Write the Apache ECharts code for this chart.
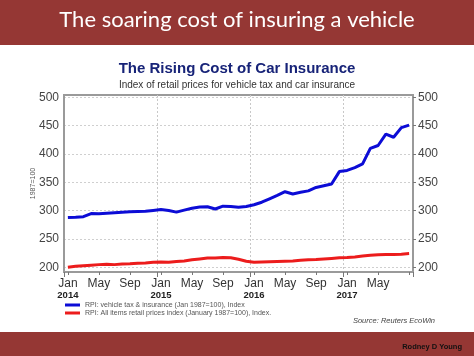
<!DOCTYPE html>
<html>
<head>
<meta charset="utf-8">
<script src="https://cdn.jsdelivr.net/npm/echarts@6/dist/echarts.min.js"></script>
<style>html,body{margin:0;padding:0;background:#fff;}#c{width:474px;height:356px;}</style>
</head>
<body>
<div id="c"></div>
<script>
const months = [
  'Jan 2014','Feb 2014','Mar 2014','Apr 2014','May 2014','Jun 2014','Jul 2014','Aug 2014','Sep 2014','Oct 2014','Nov 2014','Dec 2014',
  'Jan 2015','Feb 2015','Mar 2015','Apr 2015','May 2015','Jun 2015','Jul 2015','Aug 2015','Sep 2015','Oct 2015','Nov 2015','Dec 2015',
  'Jan 2016','Feb 2016','Mar 2016','Apr 2016','May 2016','Jun 2016','Jul 2016','Aug 2016','Sep 2016','Oct 2016','Nov 2016','Dec 2016',
  'Jan 2017','Feb 2017','Mar 2017','Apr 2017','May 2017','Jun 2017','Jul 2017','Aug 2017','Sep 2017'
];
const vehicleInsurance = [
  288, 288.5, 289.5, 295, 294.5, 295.5, 296.5, 297.5, 298, 298.5, 299, 300.5,
  302, 300.5, 297.5, 301, 304.5, 306.5, 307, 303, 308, 307.5, 306, 307.5,
  310.5, 315, 321, 327, 333.5, 329.5, 332.5, 335, 341, 344, 347, 369,
  371, 376, 382.5, 410, 415, 435, 429.5, 446.5, 451
];
const allItemsRPI = [
  200.5, 202, 203, 204, 205, 205.5, 205, 206, 206.5, 207.5, 208, 209,
  209.5, 209, 210.5, 211.5, 213.5, 215, 216.5, 216.5, 217.5, 217, 214.5, 211,
  209, 209.5, 210, 210.5, 211, 211.5, 212.5, 213.5, 214, 215, 216, 217,
  217.5, 218.5, 220, 221.5, 222.5, 223, 223, 223.5, 224.5
];
const yTicks = [200, 250, 300, 350, 400, 450, 500];
const seriesNames = [
  'RPI: vehicle tax & insurance (Jan 1987=100), Index',
  'RPI: All items retail prices index (January 1987=100), Index.'
];

const chart = echarts.init(document.getElementById('c'), null, {renderer: 'canvas'});
const banner = '#953734';
const font = '"Liberation Sans", Arial, sans-serif';

const option = {
  animation: false,
  textStyle: {fontFamily: font},
  graphic: [
    {type: 'rect', left: 0, top: 0, shape: {width: 474, height: 45}, style: {fill: banner}, z: -10},
    {type: 'rect', left: 0, top: 332, shape: {width: 474, height: 24}, style: {fill: banner}, z: -10},
    {type: 'text', left: 'center', top: 9, style: {text: 'The soaring cost of insuring a vehicle', fill: '#fff', font: '22px Lato, "Open Sans", sans-serif'}},
    {type: 'text', right: 12, top: 343, style: {text: 'Rodney D Young', fill: '#111', font: 'bold 7.5px ' + font}},
    {type: 'text', right: 39, top: 317, style: {text: 'Source: Reuters EcoWin', fill: '#444', font: 'italic 7.5px ' + font}}
  ],
  title: [
    {text: 'The Rising Cost of Car Insurance', left: 'center', top: 56,
     textStyle: {fontSize: 15, fontWeight: 'bold', color: '#172378', fontFamily: font}},
    {text: 'Index of retail prices for vehicle tax and car insurance', left: 'center', top: 75,
     textStyle: {fontSize: 10, fontWeight: 'normal', color: '#333', fontFamily: font}}
  ],
  legend: {
    orient: 'vertical', left: 65, top: 301, itemGap: 0, itemWidth: 15, itemHeight: 3,
    icon: 'rect', data: seriesNames,
    textStyle: {fontSize: 7, color: '#555', lineHeight: 8, padding: [0, 0, 0, 0]},
    padding: 0
  },
  grid: {left: 64, top: 95, right: 61, bottom: 84, show: true, borderColor: '#9a9a9a', borderWidth: 2, containLabel: false},
  xAxis: [
    {
      type: 'category', data: months, boundaryGap: true,
      axisLine: {show: true, lineStyle: {color: '#9a9a9a', width: 2}},
      axisTick: {show: true, alignWithLabel: true, interval: 3, length: 3, lineStyle: {color: '#777'}},
      axisLabel: {
        interval: 3, margin: 5, color: '#333',
        formatter: function (v, i) {
          if (i === months.length - 1) return '';
          const p = v.split(' ');
          if (p[0] === 'Jan') return '{m|Jan}\n{y|' + p[1] + '}';
          return '{m|' + p[0] + '}';
        },
        rich: {
          m: {fontSize: 12, color: '#333', fontFamily: font, lineHeight: 13},
          y: {fontSize: 9.5, fontWeight: 'bold', color: '#222', fontFamily: font, lineHeight: 11}
        }
      },
      splitLine: {show: true, interval: function (i) { return i % 12 === 0 && i > 0; },
                  lineStyle: {color: '#c8c8c8', type: [2, 2], width: 1}}
    },
    {
      type: 'category', data: months, boundaryGap: true, position: 'bottom',
      axisLine: {show: false},
      axisTick: {show: true, alignWithLabel: false, interval: 11, length: 5, lineStyle: {color: '#777'}},
      axisLabel: {show: false}, splitLine: {show: false}
    }
  ],
  yAxis: [
    {
      type: 'value', min: 192, max: 504, position: 'left',
      name: '1987=100', nameLocation: 'middle', nameGap: 27, nameRotate: 90, nameMoveOverlap: false,
      nameTextStyle: {fontSize: 7, color: '#555'},
      axisLine: {show: true, lineStyle: {color: '#9a9a9a', width: 2}},
      axisTick: {show: false, customValues: yTicks},
      axisLabel: {customValues: yTicks, fontSize: 12, color: '#444', margin: 5},
      splitLine: {show: true, lineStyle: {color: '#cfcfcf', type: [2, 2], width: 1}}
    },
    {
      type: 'value', min: 192, max: 504, position: 'right',
      axisLine: {show: true, lineStyle: {color: '#9a9a9a', width: 2}},
      axisTick: {show: true, customValues: yTicks, length: 3, lineStyle: {color: '#777'}},
      axisLabel: {customValues: yTicks, fontSize: 12, color: '#444', margin: 5},
      splitLine: {show: false}
    }
  ],
  series: [
    {name: seriesNames[0], type: 'line', data: vehicleInsurance, symbol: 'none', smooth: false,
     lineStyle: {color: '#0c0cd6', width: 3}, itemStyle: {color: '#0c0cd6'}, z: 3},
    {name: seriesNames[1], type: 'line', data: allItemsRPI, symbol: 'none', smooth: false,
     lineStyle: {color: '#ec1c1c', width: 3}, itemStyle: {color: '#ec1c1c'}, z: 3}
  ]
};
chart.setOption(option);
</script>
</body>
</html>
